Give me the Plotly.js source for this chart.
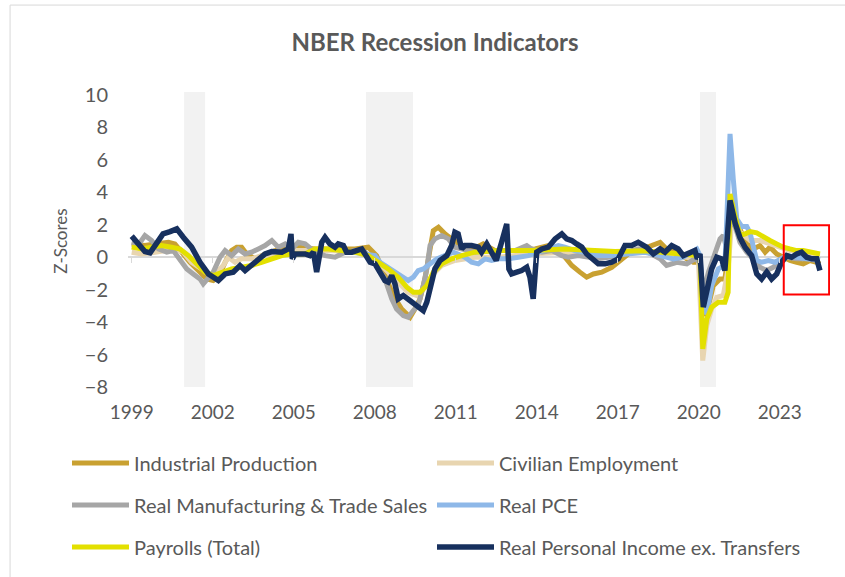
<!DOCTYPE html>
<html>
<head>
<meta charset="utf-8">
<script src="https://cdn.plot.ly/plotly-3.0.1.min.js"></script>
<style>html,body{margin:0;padding:0;background:#fff;}#chart{width:845px;height:577px;}</style>
</head>
<body>
<div id="chart"></div>
<script>
// ---- Data (x in decimal years, values are z-scores) ----
var tickYears = [1999, 2002, 2005, 2008, 2011, 2014, 2017, 2020, 2023];
var tickLabels = ["1999", "2002", "2005", "2008", "2011", "2014", "2017", "2020", "2023"];

var recessionStart = [2000.94, 2007.68, 2020.05];
var recessionEnd   = [2001.72, 2009.42, 2020.64];

var ipYears = [1999.0,1999.49,1999.86,2000.36,2000.60,2000.85,2001.16,2001.47,2001.78,2002.02,2002.27,2002.46,2002.70,2002.89,2003.07,2003.26,2003.57,2003.94,2004.31,2004.68,2005.17,2005.79,2006.53,2007.27,2007.76,2008.07,2008.38,2008.69,2009.0,2009.31,2009.49,2009.68,2009.86,2010.05,2010.17,2010.36,2010.60,2010.85,2011.22,2011.71,2012.02,2012.46,2013.44,2013.94,2014.43,2014.80,2015.04,2015.30,2015.60,2015.85,2016.10,2016.41,2016.78,2017.02,2017.39,2017.76,2018.32,2018.57,2018.81,2019.19,2019.56,2019.80,2020.05,2020.19,2020.36,2020.54,2020.79,2020.97,2021.09,2021.22,2021.41,2021.59,2021.78,2022.02,2022.27,2022.46,2022.64,2022.89,2023.13,2023.38,2023.63,2023.87,2024.12,2024.37,2024.49];
var ipValues = [0.82,0.72,0.82,0.92,0.82,0.31,-0.31,-0.82,-1.34,-1.44,-1.03,-0.31,0.41,0.62,0.62,0.2,-0.1,0.2,0.41,0.62,0.62,0.51,0.51,0.51,0.62,0.1,-1.13,-2.36,-3.19,-3.7,-3.19,-2.57,-1.34,0.51,1.64,1.85,1.44,1.13,0.72,0.55,0.82,0.41,0.41,0.51,0.72,0.51,0,-0.51,-0.92,-1.23,-1.03,-0.92,-0.62,-0.31,0.2,0.41,0.82,0.92,0.51,0.31,-0.1,-0.31,-0.31,-3.6,-2.98,-1.75,-1.34,-1.34,0.1,2.57,2.16,1.44,0.82,0.51,0.72,0.31,0.62,0.2,0,-0.2,-0.31,-0.41,-0.2,-0.31,-0.2];

var empYears = [1999.0,1999.37,1999.86,2000.23,2000.60,2000.91,2001.22,2001.59,2001.90,2002.15,2002.39,2002.58,2002.83,2003.07,2003.44,2003.81,2004.31,2004.93,2005.05,2006.28,2007.52,2008.01,2008.50,2008.87,2009.24,2009.56,2009.86,2010.17,2010.48,2010.97,2011.71,2012.58,2013.81,2015.04,2016.28,2018.01,2019.06,2019.99,2020.15,2020.30,2020.48,2020.67,2020.91,2021.09,2021.22,2021.41,2021.53,2021.91,2022.27,2022.64,2023.01,2023.38,2023.75,2024.12,2024.49];
var empValues = [0.31,0.2,0.31,0.41,0.51,0.31,-0.31,-0.72,-1.13,-0.92,-0.51,0,-0.31,-0.1,-0.1,0.1,0.2,0.31,0.41,0.41,0.31,-0.1,-0.92,-1.54,-2.16,-2.36,-1.85,-1.03,-0.51,-0.2,0,0,0.2,0.31,0.2,0.31,0.1,-0.1,-6.37,-4.2,-3.19,-2.47,-2.36,-0.72,2.16,2.16,1.54,1.03,1.03,0.82,0.62,0.41,0.41,0.2,0.1];

var mtsYears = [1999.0,1999.27,1999.49,1999.74,1999.99,2000.30,2000.54,2000.79,2001.04,2001.28,2001.53,2001.65,2001.84,2002.02,2002.27,2002.46,2002.70,2002.95,2003.20,2003.44,2003.69,2003.94,2004.19,2004.43,2004.68,2004.93,2005.17,2005.42,2005.79,2006.16,2006.53,2006.90,2007.27,2007.64,2008.01,2008.38,2008.63,2008.81,2009.06,2009.24,2009.43,2009.61,2009.80,2009.93,2010.05,2010.23,2010.48,2010.73,2010.97,2011.22,2011.71,2012.58,2013.20,2013.63,2013.81,2014.19,2014.56,2014.93,2015.17,2015.54,2015.91,2016.28,2016.65,2017.02,2017.39,2017.76,2018.01,2018.32,2018.57,2018.81,2019.19,2019.56,2019.86,2020.05,2020.17,2020.36,2020.54,2020.79,2020.91,2021.04,2021.16,2021.35,2021.53,2021.78,2022.02,2022.27,2022.52,2022.76,2023.01,2023.26,2023.63,2024.0,2024.37,2024.49];
var mtsValues = [0.92,0.82,1.34,1.03,0.51,0.31,0.41,-0.1,-0.72,-1.03,-1.34,-1.64,-1.23,-0.92,0,0.41,0.1,0.51,0.2,0.31,0.51,0.72,1.03,0.62,0.82,0.51,0.92,0.82,0.31,0.1,0,0.31,0.41,0.31,-0.41,-1.34,-2.57,-3.19,-3.6,-3.7,-3.29,-2.98,-1.75,-0.72,0.72,1.13,1.34,1.13,0.62,0.51,0.31,0.41,0.41,0.72,0.51,0.31,0.41,0.1,0,0.1,0,-0.1,0,0.1,0.31,0.51,0.41,0.1,-0.1,-0.51,-0.31,-0.41,-0.1,-0.31,-2.16,-0.92,-0.1,1.13,1.34,0.51,2.16,1.9,0.92,0.31,-0.1,-0.62,-0.82,-0.62,-0.31,0,-0.1,-0.1,-0.2,-0.2];

var pceYears = [2007.0,2008.01,2008.20,2008.57,2008.94,2009.24,2009.43,2009.61,2009.80,2010.05,2010.30,2010.60,2010.91,2011.22,2011.34,2011.59,2011.84,2012.09,2012.33,2012.58,2012.95,2013.32,2013.69,2014.06,2014.43,2014.80,2015.04,2015.41,2015.78,2016.28,2016.78,2017.27,2018.01,2018.57,2019.06,2019.43,2019.93,2020.05,2020.17,2020.30,2020.48,2020.73,2020.97,2021.05,2021.16,2021.28,2021.41,2021.59,2021.78,2021.90,2022.02,2022.15,2022.33,2022.58,2022.83,2023.01,2023.26,2023.63,2024.0,2024.37,2024.49];
var pceValues = [0.35,0.1,-0.31,-0.72,-1.13,-1.44,-1.23,-0.82,-0.72,-0.41,-0.1,0.1,0.31,0.1,0,-0.31,-0.41,-0.1,-0.2,-0.1,-0.1,0,0.1,0.31,0.51,0.72,0.62,0.41,0.31,0.1,0.1,0.2,0.31,0.1,-0.1,0,0.51,0.1,-2.98,-3.5,-1.75,-0.72,-0.51,2.77,7.6,4.83,2.36,1.9,1.9,1.5,0.5,-0.2,-0.31,-0.2,-0.31,-0.1,0.1,0,-0.1,-0.1,-0.15];

var payYears = [1999.0,1999.37,1999.74,2000.11,2000.48,2000.79,2001.10,2001.41,2001.71,2002.02,2002.33,2002.70,2003.07,2003.44,2003.81,2004.19,2004.56,2004.93,2005.42,2005.79,2006.28,2006.78,2007.27,2007.76,2008.13,2008.50,2008.87,2009.19,2009.43,2009.68,2009.93,2010.17,2010.48,2010.85,2011.22,2011.71,2012.58,2013.81,2015.04,2015.67,2016.28,2016.90,2018.01,2019.0,2019.95,2020.05,2020.15,2020.30,2020.48,2020.73,2020.97,2021.09,2021.16,2021.35,2021.53,2021.72,2021.91,2022.15,2022.39,2022.64,2022.89,2023.13,2023.38,2023.63,2023.87,2024.24,2024.49];
var payValues = [0.62,0.51,0.62,0.72,0.62,0.51,0.1,-0.41,-0.92,-1.13,-0.92,-0.72,-0.62,-0.51,-0.31,-0.1,0.1,0.2,0.2,0.51,0.51,0.41,0.31,0.1,-0.31,-0.72,-1.23,-1.85,-2.16,-2.16,-1.75,-0.92,-0.41,-0.1,0.1,0.31,0.41,0.41,0.51,0.47,0.41,0.35,0.4,0.25,0.1,-0.1,-5.65,-3.8,-3.08,-2.77,-2.77,-2.16,3.9,2.5,1.34,1.44,1.58,1.5,1.23,1.03,0.82,0.62,0.51,0.41,0.41,0.31,0.2];

var rpiYears = [1999.0,1999.49,1999.68,1999.93,2000.16,2000.42,2000.67,2000.91,2001.22,2001.53,2001.84,2002.21,2002.46,2002.76,2003.01,2003.20,2003.57,2003.94,2004.19,2004.56,2004.80,2004.90,2004.95,2005.05,2005.42,2005.60,2005.73,2005.85,2006.04,2006.16,2006.34,2006.53,2006.65,2006.84,2006.96,2007.15,2007.33,2007.52,2007.64,2007.83,2008.01,2008.20,2008.38,2008.50,2008.63,2008.75,2008.87,2009.06,2009.24,2009.43,2009.61,2009.80,2009.93,2010.11,2010.23,2010.42,2010.67,2010.85,2010.97,2011.09,2011.22,2011.34,2011.59,2011.84,2011.96,2012.15,2012.27,2012.50,2012.70,2012.89,2012.97,2013.07,2013.26,2013.44,2013.63,2013.75,2013.87,2014.0,2014.19,2014.43,2014.68,2014.93,2015.11,2015.30,2015.48,2015.67,2015.85,2016.10,2016.28,2016.53,2016.78,2017.02,2017.27,2017.52,2017.76,2018.07,2018.32,2018.57,2018.75,2019.0,2019.24,2019.43,2019.68,2019.86,2019.95,2020.05,2020.17,2020.30,2020.48,2020.67,2020.85,2020.97,2021.16,2021.35,2021.53,2021.72,2021.96,2022.15,2022.33,2022.52,2022.70,2022.89,2023.07,2023.26,2023.44,2023.63,2023.81,2024.0,2024.19,2024.37,2024.49];
var rpiValues = [1.3,0.35,0.27,0.82,1.44,1.58,1.75,1.23,0.62,-0.31,-1.03,-1.44,-1.03,-0.92,-0.51,-0.82,-0.31,0.2,0.35,0.31,0.51,1.44,-0.1,0.2,0.2,0.1,0.31,-0.92,0.92,1.23,0.82,0.62,0.82,0.72,0.31,0.31,0.41,0.51,0.2,-0.31,-0.41,-0.92,-1.44,-1.54,-1.13,-1.64,-2.57,-2.36,-2.57,-2.77,-2.98,-3.29,-2.77,-1.54,-0.72,-0.2,0.1,0.72,1.54,1.44,0.51,0.72,0.72,0.62,0.31,0.82,0.51,-0.2,0.92,2.05,-0.72,-1.03,-0.92,-0.82,-0.62,-1.23,-2.57,0.31,0.51,0.62,1.13,1.44,1.13,1.03,0.82,0.62,0.2,-0.2,-0.41,-0.41,-0.31,-0.1,0.72,0.72,0.92,0.62,0.2,0.51,0.31,0.72,0.51,0.1,0.31,0.41,-0.1,0.2,-3.08,-2.16,-0.72,0,-0.1,-0.82,3.5,2.1,1.2,0.6,0.1,-1.03,-1.34,-0.92,-1.34,-1.03,-0.31,0.1,0,0.2,0.31,0,-0.1,-0.1,-0.82];

// ---- Build chart ----
var FONT = 'Lato, "Open Sans", sans-serif';
var TXT = '#595959';

var series = [
  {name: 'Industrial Production', x: ipYears, y: ipValues, color: '#C9A131', legend: 'legend', w: 5},
  {name: 'Civilian Employment', x: empYears, y: empValues, color: '#E8D5B0', legend: 'legend2', w: 5},
  {name: 'Real Manufacturing & Trade Sales', x: mtsYears, y: mtsValues, color: '#A6A6A6', legend: 'legend3', w: 5},
  {name: 'Real PCE', x: pceYears, y: pceValues, color: '#8EB8E8', legend: 'legend4', w: 5},
  {name: 'Payrolls (Total)', x: payYears, y: payValues, color: '#E3E000', legend: 'legend5', w: 5},
  {name: 'Real Personal Income ex. Transfers', x: rpiYears, y: rpiValues, color: '#17305E', legend: 'legend6', w: 5.5}
];

var traces = series.map(function (s) {
  return {
    type: 'scatter', mode: 'lines', name: s.name, x: s.x, y: s.y,
    line: {color: s.color, width: s.w, shape: 'linear'},
    legend: s.legend, hoverinfo: 'x+y+name'
  };
});
// invisible trace on secondary x axis to draw tick marks on the zero line
traces.push({type: 'scatter', mode: 'lines', x: [tickYears[0]], y: [0], xaxis: 'x2', showlegend: false, hoverinfo: 'skip', line: {width: 0}});

var shapes = recessionStart.map(function (s, i) {
  return {type: 'rect', xref: 'x', yref: 'paper', x0: s, x1: recessionEnd[i], y0: 0, y1: 1.01,
          fillcolor: '#F2F2F2', line: {width: 0}, layer: 'below'};
});
// highlight box around the latest readings
shapes.push({type: 'rect', xref: 'x', yref: 'y', x0: 2023.15, x1: 2024.83, y0: -2.3, y1: 1.97,
             line: {color: '#FF0000', width: 2}, fillcolor: 'rgba(0,0,0,0)', layer: 'above'});
// chart area border (top and left)
shapes.push({type: 'line', xref: 'paper', yref: 'paper', x0: -0.168, x1: 1.05, y0: 1.308, y1: 1.308, line: {color: '#D9D9D9', width: 1}});
shapes.push({type: 'line', xref: 'paper', yref: 'paper', x0: -0.168, x1: -0.168, y0: 1.308, y1: -0.7, line: {color: '#D9D9D9', width: 1}});

function legendItem(xPx, yPx) {
  return {
    orientation: 'h', xref: 'container', yref: 'container',
    x: xPx / 845, y: 1 - yPx / 577, xanchor: 'left', yanchor: 'middle',
    itemwidth: 57,
    font: {family: FONT, size: 20, color: TXT}, bgcolor: 'rgba(0,0,0,0)',
    itemclick: false, itemdoubleclick: false
  };
}

var layout = {
  width: 845, height: 577,
  margin: {l: 128, r: 15, t: 95, b: 190},
  paper_bgcolor: '#FFFFFF', plot_bgcolor: '#FFFFFF',
  font: {family: FONT, color: TXT},
  title: {text: '<b>NBER Recession Indicators</b>', font: {family: FONT, size: 24, color: TXT},
          x: 435 / 845, xref: 'container', xanchor: 'center', y: 1 - 43 / 577, yref: 'container', yanchor: 'middle'},
  xaxis: {type: 'linear', range: [1998.863, 2024.863], tickmode: 'array', tickvals: tickYears, ticktext: tickLabels,
          showgrid: false, zeroline: false, showline: false, ticks: '', ticklabelstandoff: 12,
          tickfont: {family: FONT, size: 19, color: TXT}, fixedrange: true},
  xaxis2: {type: 'linear', overlaying: 'x', matches: 'x', anchor: 'free', position: 8 / 18, side: 'bottom',
           tickmode: 'array', tickvals: tickYears, showticklabels: false, ticks: 'outside', ticklen: 5,
           tickcolor: '#D9D9D9', tickwidth: 1, showgrid: false, zeroline: false, showline: false},
  yaxis: {range: [-8, 10], tickmode: 'linear', tick0: -8, dtick: 2, showgrid: false,
          zeroline: true, zerolinecolor: '#D9D9D9', zerolinewidth: 1.5, showline: false, ticks: '',
          ticklabelstandoff: 19, tickfont: {family: FONT, size: 20, color: TXT},
          title: {text: 'Z-Scores', font: {family: FONT, size: 17, color: TXT}, standoff: 12}, fixedrange: true},
  shapes: shapes,
  legend: legendItem(67, 463),
  legend2: legendItem(432, 463),
  legend3: legendItem(67, 505),
  legend4: legendItem(432, 505),
  legend5: legendItem(67, 547),
  legend6: legendItem(432, 547),
  showlegend: true,
  hovermode: 'closest'
};

Plotly.newPlot('chart', traces, layout, {displayModeBar: false});
</script>
</body>
</html>
